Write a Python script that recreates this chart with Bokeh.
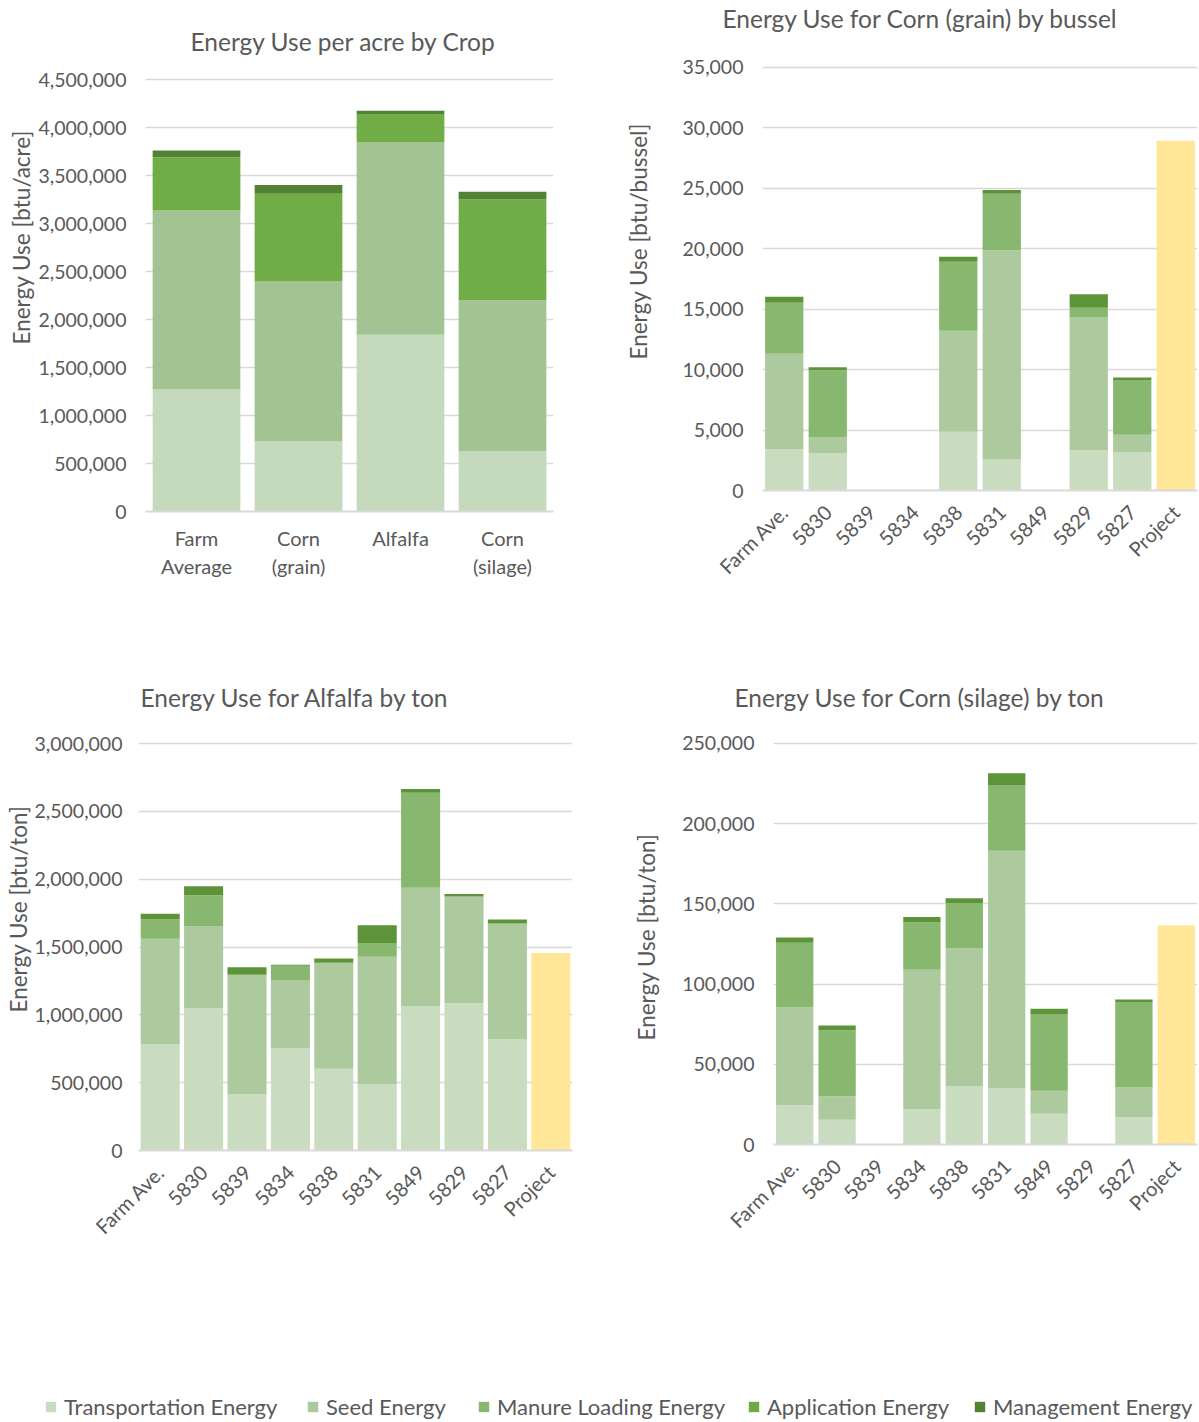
import math

from bokeh.embed import file_html
from bokeh.layouts import column, row
from bokeh.models import (ColumnDataSource, FactorRange, FixedTicker, Legend,
                          LegendItem, NumeralTickFormatter, Range1d, Title)
from bokeh.plotting import figure
from bokeh.resources import INLINE

FONT = "Lato"
TEXT = "#595959"
GRID = "#D9D9D9"
PROJECT_COLOR = "#FFE699"

# ---- Energy use per acre, by crop ----------------------------------------
acre_crops = ["Farm\nAverage", "Corn\n(grain)", "Alfalfa", "Corn\n(silage)"]
acre_transport = [1270000, 730000, 1840000, 625000]
acre_seed = [1865000, 1670000, 2010000, 1575000]
acre_application = [555000, 910000, 290000, 1050000]
acre_management = [70000, 90000, 35000, 80000]

# ---- Per-farm breakdowns ---------------------------------------------------
farms = ["Farm Ave.", "5830", "5839", "5834", "5838", "5831", "5849", "5829", "5827"]
project_label = "Project"

# Corn (grain), btu per bussel
grain_transport = [3430, 3110, 0, 0, 4860, 2570, 0, 3330, 3180]
grain_seed = [7880, 1270, 0, 0, 8350, 17310, 0, 11030, 1430]
grain_manure = [4220, 5560, 0, 0, 5720, 4670, 0, 760, 4540]
grain_management = [510, 250, 0, 0, 410, 320, 0, 1110, 190]
grain_project = 28930

# Alfalfa, btu per ton
alfalfa_transport = [783000, 1050000, 415000, 755000, 603000, 491000, 1066000, 1088000, 821000]
alfalfa_seed = [777000, 605000, 880000, 502000, 780000, 938000, 870000, 785000, 853000]
alfalfa_manure = [144000, 227000, 0, 104000, 0, 101000, 701000, 0, 0]
alfalfa_management = [41000, 65000, 55000, 8000, 32000, 131000, 27000, 17000, 28000]
alfalfa_project = 1456000

# Corn (silage), btu per ton
silage_transport = [24500, 15500, 0, 22200, 36500, 34900, 19200, 0, 17100]
silage_seed = [61100, 14600, 0, 86700, 85800, 148300, 14300, 0, 18500]
silage_manure = [40200, 41100, 0, 29600, 28300, 40900, 47900, 0, 53200]
silage_management = [3200, 3000, 0, 3300, 3000, 7400, 3200, 0, 1600]
silage_project = 136700

legend_names = ["Transportation Energy", "Seed Energy", "Manure Loading Energy",
                "Application Energy", "Management Energy"]
legend_colors = ["#C9DBC0", "#ADCA9F", "#88B870", "#6FAA45", "#548235"]

acre_colors = ["#C5D9BC", "#A2C493", "#70AD47", "#548235"]
farm_colors = ["#C9DCC0", "#ADCA9E", "#88B76F", "#5E9439"]


def spacer(gap):
    # an empty side panel of roughly `gap` pixels
    return Title(text=" ", text_font_size="1px", standoff=max(gap - 3, 0))


def make_chart(title, title_offset, title_gap, title_standoff,
               ylabel, ylabel_offset, ylabel_gap, ylabel_standoff, tick_standoff,
               factors, layers, colors, ymax, yend, step, frame, bar_width,
               project=None, rotate=False):
    """frame = (left, top, frame_w, frame_h, total_w, total_h); yend is the
    value at the top edge of the frame, slightly above the last gridline."""
    left, top, fw, fh, total_w, total_h = frame
    p = figure(x_range=FactorRange(*factors), y_range=Range1d(0, yend),
               frame_width=fw, frame_height=fh,
               min_border_left=left, min_border_top=top,
               min_border_right=total_w - left - fw,
               min_border_bottom=total_h - top - fh,
               output_backend="svg", toolbar_location=None, title=None)

    # chart title (above) and value-axis title (left)
    if title_gap:
        p.add_layout(spacer(title_gap), "above")
    p.add_layout(Title(text=title, align="left", offset=title_offset,
                       standoff=title_standoff, text_font=FONT,
                       text_font_size="24.5px", text_font_style="normal",
                       text_color=TEXT), "above")
    if ylabel_gap:
        p.add_layout(spacer(ylabel_gap), "left")
    p.add_layout(Title(text=ylabel, align="left", offset=ylabel_offset,
                       standoff=ylabel_standoff, text_font=FONT,
                       text_font_size="22.5px", text_font_style="normal",
                       text_color=TEXT), "left")

    p.outline_line_color = None
    p.background_fill_color = "white"
    p.border_fill_color = "white"
    p.xgrid.visible = False
    p.ygrid.grid_line_color = GRID
    p.ygrid.grid_line_width = 1.5

    p.yaxis.ticker = FixedTicker(ticks=list(range(0, ymax + 1, step)))
    p.yaxis.formatter = NumeralTickFormatter(format="0,0")
    p.yaxis.axis_line_color = None
    p.yaxis.major_tick_line_color = None
    p.yaxis.minor_tick_line_color = None
    p.yaxis.major_label_standoff = tick_standoff
    p.yaxis.major_label_text_font = FONT
    p.yaxis.major_label_text_font_size = "19.5px"
    p.yaxis.major_label_text_color = TEXT

    p.xaxis.axis_line_color = GRID
    p.xaxis.axis_line_width = 2
    p.xaxis.major_tick_line_color = None
    p.xaxis.major_label_text_font = FONT
    p.xaxis.major_label_text_font_size = "20px"
    p.xaxis.major_label_text_color = TEXT
    p.xaxis.major_label_standoff = 8
    if rotate:
        p.xaxis.major_label_orientation = math.pi / 4
        p.xaxis.major_label_standoff = 12

    names = [f"s{i}" for i in range(len(layers))]
    data = {"x": list(factors[:len(layers[0])])}
    for n, vals in zip(names, layers):
        data[n] = vals
    p.vbar_stack(names, x="x", width=bar_width, fill_color=colors,
                 line_color=None, source=ColumnDataSource(data))
    if project is not None:
        p.vbar(x=[factors[-1]], top=[project], width=bar_width,
               fill_color=PROJECT_COLOR, line_color=None)
    return p


farm_factors = farms + [project_label]

p1 = make_chart("Energy Use per acre by Crop", 45, 7.5, 2,
                "Energy Use [btu/acre]", 167, 0, 2, 13,
                acre_crops,
                [acre_transport, acre_seed, acre_application, acre_management],
                acre_colors, 4500000, 4656250, 500000,
                (145, 64, 408, 447, 600, 650), 0.86)

p2 = make_chart("Energy Use for Corn (grain) by bussel", -40, 31.5, 0,
                "Energy Use [btu/bussel]", 131, 27, 2, 13,
                farm_factors,
                [grain_transport, grain_seed, grain_manure, grain_management],
                farm_colors, 35000, 35248, 5000,
                (162, 64, 435, 426, 599, 650), 0.88,
                project=grain_project, rotate=True)

p3 = make_chart("Energy Use for Alfalfa by ton", 2, 27.5, 2,
                "Energy Use [btu/ton]", 138, 0, 0, 10,
                farm_factors,
                [alfalfa_transport, alfalfa_seed, alfalfa_manure, alfalfa_management],
                farm_colors, 3000000, 3022113, 500000,
                (138, 90, 434, 410, 600, 650), 0.9,
                project=alfalfa_project, rotate=True)

p4 = make_chart("Energy Use for Corn (silage) by ton", -39, 27.5, 2,
                "Energy Use [btu/ton]", 104, 19, 2, 13,
                farm_factors,
                [silage_transport, silage_seed, silage_manure, silage_management],
                farm_colors, 250000, 251870, 50000,
                (173, 90, 424, 404, 599, 650), 0.88,
                project=silage_project, rotate=True)

# ---- Shared legend strip ---------------------------------------------------
leg = figure(width=1199, height=122, x_range=(0, 1), y_range=(0, 1),
             output_backend="svg", toolbar_location=None, min_border=0)
leg.axis.visible = False
leg.grid.visible = False
leg.outline_line_color = None

legend_x = [44, 306, 477, 747, 973]
for name, color, lx in zip(legend_names, legend_colors, legend_x):
    r = leg.vbar(x=[5], top=[1], width=0.5, fill_color=color, line_color=None)
    lg = Legend(items=[LegendItem(label=name, renderers=[r])],
                location=(lx, 2), orientation="horizontal",
                padding=0, margin=0, spacing=0,
                glyph_width=13, glyph_height=13, label_standoff=7,
                label_text_font=FONT, label_text_font_size="22px",
                label_text_color=TEXT, border_line_color=None,
                background_fill_alpha=0)
    leg.add_layout(lg, "center")

layout = column(row(p1, p2), row(p3, p4), leg)
open("out.html", "w").write(file_html(layout, INLINE))
